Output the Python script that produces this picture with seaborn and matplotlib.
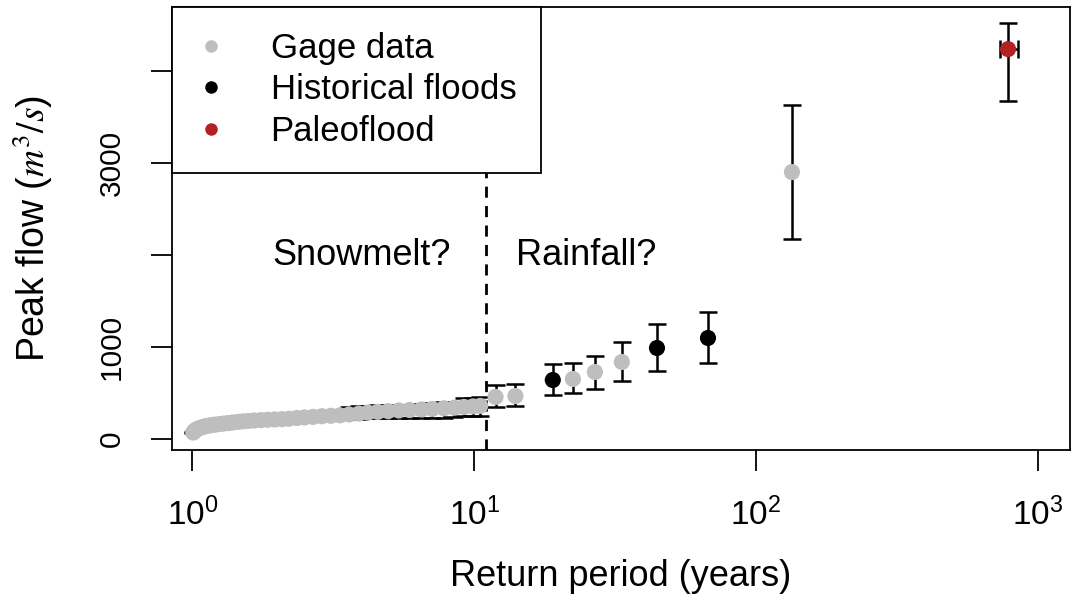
import numpy as np
import pandas as pd
import matplotlib
matplotlib.use("Agg")
import matplotlib.pyplot as plt
import seaborn as sns
from matplotlib.lines import Line2D

# ---------------- data ----------------
gage_T = [1.007, 1.015, 1.023, 1.03, 1.045, 1.06, 1.08, 1.10, 1.12, 1.15,
          1.18, 1.21, 1.25, 1.29, 1.34, 1.39, 1.45, 1.51, 1.58, 1.66,
          1.75, 1.85, 1.96, 2.08, 2.2, 2.35, 2.5, 2.68, 2.88, 3.1,
          3.34, 3.6, 3.9, 4.2, 4.55, 4.95, 5.4, 5.9, 6.5, 7.1,
          7.8, 8.5, 9.2, 9.9, 10.5,
          11.9, 14.0, 22.4, 26.8, 33.4, 134.0]
gage_Q = [70, 82, 92, 100, 110, 118, 127, 134, 140, 146,
          152, 157, 162, 167, 173, 179, 186, 191, 196, 201,
          205, 209, 212, 215, 220, 228, 234, 240, 247, 252,
          257, 266, 276, 287, 295, 303, 310, 315, 321, 327,
          334, 340, 348, 354, 360,
          457, 467, 652, 728, 837, 2902]
gage_lo = [60, 72, 82, 90, 100, 108, 117, 124, 130, 136,
           142, 147, 152, 157, 163, 169, 176, 181, 186, 191,
           195, 199, 202, 205, 210, 218, 224, 230, 236, 240,
           244, 240, 222, 224, 225, 226, 227, 228, 229, 230,
           232, 236, 248, 252, 255,
           348, 359, 500, 543, 630, 2174]
gage_hi = [80, 92, 102, 110, 120, 128, 137, 144, 150, 156,
           162, 167, 172, 177, 183, 189, 196, 201, 206, 211,
           215, 219, 222, 226, 232, 240, 248, 256, 265, 275,
           290, 350, 358, 362, 364, 365, 366, 372, 385, 392,
           398, 405, 440, 448, 455,
           587, 598, 826, 902, 1054, 3630]

hist_T = [19.0, 44.5, 67.5]
hist_Q = [641, 989, 1098]
hist_lo = [478, 739, 826]
hist_hi = [815, 1250, 1380]

paleo_T = [783.0]
paleo_Q = [4239]
paleo_lo = [3674]
paleo_hi = [4522]
paleo_T_lo = [732.0]
paleo_T_hi = [849.0]

series_names = ["Gage data", "Historical floods", "Paleoflood"]
series_colors = ["#BEBEBE", "#000000", "#B22222"]
y_ticks = [0, 1000, 2000, 3000, 4000]
y_tick_labels = ["0", "1000", "", "3000", ""]
x_ticks = [1, 10, 100, 1000]
x_tick_labels = [r"$\mathregular{10^{0}}$", r"$\mathregular{10^{1}}$",
                 r"$\mathregular{10^{2}}$", r"$\mathregular{10^{3}}$"]
threshold_T = 11.0
region_labels = ["Snowmelt?", "Rainfall?"]
region_T = [4.0, 25.0]
region_Q = [2000, 2000]

# ---------------- styling ----------------
sns.set_style("ticks")
plt.rcParams["font.family"] = ["Liberation Sans", "DejaVu Sans"]
plt.rcParams["mathtext.fontset"] = "stix"
for key in ["text.color", "axes.labelcolor", "xtick.color", "ytick.color",
            "axes.edgecolor"]:
    plt.rcParams[key] = "black"

fig = plt.figure(figsize=(10.71, 6.10), dpi=100)
W, H = 1071, 610
left, right, top, bottom = 172, 1070, 6.7, 450
ax = fig.add_axes([left / W, 1 - bottom / H, (right - left) / W, (bottom - top) / H])

df = pd.DataFrame({
    "T": gage_T + hist_T + paleo_T,
    "Q": gage_Q + hist_Q + paleo_Q,
    "lo": gage_lo + hist_lo + paleo_lo,
    "hi": gage_hi + hist_hi + paleo_hi,
    "src": [series_names[0]] * len(gage_T) + [series_names[1]] * len(hist_T)
           + [series_names[2]] * len(paleo_T),
})

# error bars
yerr = np.vstack([df["Q"] - df["lo"], df["hi"] - df["Q"]])
ax.errorbar(df["T"], df["Q"], yerr=yerr, fmt="none", ecolor="black",
            elinewidth=1.8, capsize=6.5, capthick=1.8, zorder=2)
ax.errorbar(paleo_T, paleo_Q,
            xerr=[[paleo_T[0] - paleo_T_lo[0]], [paleo_T_hi[0] - paleo_T[0]]],
            fmt="none", ecolor="black", elinewidth=1.8, capsize=6.5,
            capthick=1.8, zorder=2)

palette = dict(zip(series_names, series_colors))
sns.scatterplot(data=df, x="T", y="Q", hue="src", palette=palette,
                s=135, linewidth=0, edgecolor="none", ax=ax, legend=False,
                zorder=3)

ax.axvline(threshold_T, color="black", ls=(0, (4, 3)), lw=2, zorder=1)

for lab, tx, qy in zip(region_labels, region_T, region_Q):
    ax.text(tx, qy, lab, ha="center", va="center", fontsize=26, color="black")

ax.set_xscale("log")
ax.set_xlim(0.847, 1299)
ax.set_ylim(-120, 4700)
ax.set_xticks(x_ticks)
ax.set_xticklabels(x_tick_labels)
ax.xaxis.set_minor_locator(matplotlib.ticker.NullLocator())
ax.set_yticks(y_ticks)
ax.set_yticklabels(y_tick_labels, rotation=90, va="center")

ax.tick_params(axis="both", length=15, width=1.3, colors="black")
ax.tick_params(axis="x", pad=19, labelsize=24)
ax.tick_params(axis="y", pad=18, labelsize=21.5)
for sp in ax.spines.values():
    sp.set_linewidth(1.3)
    sp.set_color("black")
    sp.set_visible(True)

ax.set_xlabel("Return period (years)", fontsize=26, labelpad=20, color="black")
ax.set_ylabel(r"Peak flow ($m^3/s$)", fontsize=27, labelpad=31, color="black")

handles = [Line2D([0], [0], marker="o", linestyle="none", markersize=9,
                  markerfacecolor=c, markeredgecolor="none") for c in series_colors]
leg = ax.legend(handles, series_names, loc="upper left", bbox_to_anchor=(0, 1),
                borderaxespad=0, fontsize=25, frameon=True, fancybox=False,
                framealpha=1, edgecolor="black", handlelength=0.78,
                handletextpad=1.34, labelspacing=0.25, borderpad=0.72)
leg.get_frame().set_linewidth(1.3)
leg.set_zorder(10)
for t in leg.get_texts():
    t.set_color("black")

fig.savefig("out.png", dpi=100)
